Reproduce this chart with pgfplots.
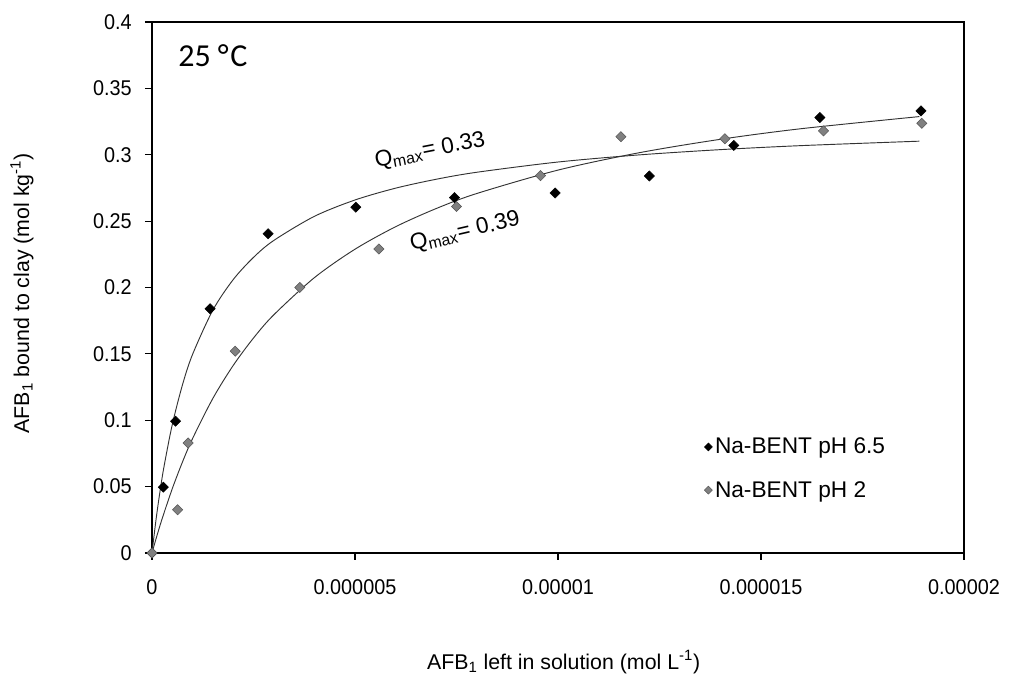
\documentclass[border=0pt]{standalone}
\usepackage{pgfplots}
\pgfplotsset{compat=1.18}
\usepackage{fontspec}
\setmainfont{Liberation Sans}
\newfontfamily\tickfont[FakeStretch=0.93]{Liberation Sans}
\newfontfamily\calib{Carlito}
\definecolor{mgray}{HTML}{808080}
\definecolor{dgray}{HTML}{555555}
\definecolor{lcol}{HTML}{333333}
\begin{document}
\begin{tikzpicture}
\begin{axis}[
  scale only axis,
  width=609pt, height=398.25pt,
  xmin=0, xmax=0.00002, ymin=0, ymax=0.4,
  xtick={0,0.000005,0.00001,0.000015,0.00002},
  xticklabels={0,0.000005,0.00001,0.000015,0.00002},
  ytick={0,0.05,0.1,0.15,0.2,0.25,0.3,0.35,0.4},
  yticklabels={0,0.05,0.1,0.15,0.2,0.25,0.3,0.35,0.4},
  scaled x ticks=false,
  tick align=outside,
  major tick length=5.25pt,
  tick style={black, line width=0.8pt},
  axis line style={black, line width=1pt},
  xtick pos=bottom, ytick pos=left,
  ticklabel style={font=\tickfont\fontsize{16}{19}\selectfont},
  yticklabel style={xshift=-6.5pt},
  xticklabel style={yshift=-11pt},
  label style={font=\fontsize{16}{19}\selectfont},
  xlabel={AFB\textsubscript{1} left in solution (mol L\textsuperscript{-1})},
  ylabel={AFB\textsubscript{1} bound to clay (mol kg\textsuperscript{-1})},
  xlabel style={at={(axis description cs:0.507,-0.2053)}, anchor=center},
  ylabel style={at={(axis description cs:-0.1601,0.489)}, anchor=center},
  legend style={at={(axis description cs:0.68,0.222)}, anchor=north west, draw=none, fill=none,
    font=\fontsize{17}{20}\selectfont, row sep=15pt, inner sep=0pt},
  legend cell align=left,
  legend image code/.code={\draw[#1] plot coordinates {(0.1cm,0cm)};},
  every legend image post/.append style={mark size=2.1pt},
  clip=false,
]
% Fitted Langmuir curves
\addplot[lcol, line width=0.7pt, smooth, forget plot] table[row sep=\\] {
x y\\
0 0\\ 0.1e-6 0.02529\\ 0.2e-6 0.04698\\ 0.3e-6 0.06579\\ 0.5e-6 0.09678\\
0.75e-6 0.12661\\ 1e-6 0.14967\\ 1.5e-6 0.18301\\ 2e-6 0.20594\\ 2.5e-6 0.22268\\
3e-6 0.23544\\ 4e-6 0.25361\\ 5e-6 0.26592\\ 6e-6 0.27482\\ 7e-6 0.28154\\
8e-6 0.28681\\ 10e-6 0.29452\\ 12e-6 0.29989\\ 14e-6 0.30385\\ 16e-6 0.30689\\
18.9e-6 0.31022\\
};
\addplot[lcol, line width=0.7pt, smooth, forget plot] table[row sep=\\] {
x y\\
0 0\\ 0.1e-6 0.01077\\ 0.25e-6 0.02585\\ 0.5e-6 0.04849\\ 0.75e-6 0.06848\\
1e-6 0.08626\\ 1.5e-6 0.11651\\ 2e-6 0.14127\\ 2.5e-6 0.16193\\ 3e-6 0.17942\\
4e-6 0.20742\\ 5e-6 0.22884\\ 6e-6 0.24577\\ 7e-6 0.25948\\ 8e-6 0.27081\\
10e-6 0.28844\\ 12e-6 0.30152\\ 14e-6 0.31163\\ 16e-6 0.31966\\ 18.9e-6 0.32875\\
};
% Data points
\addplot[only marks, mark=square*, mark size=2.7pt, mark options={rotate=45, fill=black, draw=black}] table[row sep=\\] {
x y\\
0 0\\ 0.28e-6 0.0496\\ 0.58e-6 0.0993\\ 1.43e-6 0.1840\\ 2.86e-6 0.2405\\
5.02e-6 0.2605\\ 7.45e-6 0.2677\\ 9.93e-6 0.2712\\ 12.25e-6 0.2840\\
14.33e-6 0.3070\\ 16.45e-6 0.3280\\ 18.94e-6 0.3330\\
};
\addlegendentry{Na-BENT pH 6.5}
\addplot[only marks, mark=square*, mark size=2.7pt, mark options={rotate=45, fill=mgray, draw=dgray}] table[row sep=\\] {
x y\\
0 0\\ 0.63e-6 0.0326\\ 0.89e-6 0.0829\\ 2.05e-6 0.1520\\ 3.64e-6 0.2000\\
5.59e-6 0.2290\\ 7.50e-6 0.2610\\ 9.57e-6 0.2843\\ 11.55e-6 0.3136\\
14.11e-6 0.3120\\ 16.54e-6 0.3180\\ 18.96e-6 0.3237\\
};
\addlegendentry{Na-BENT pH 2}
\node[font=\calib\fontsize{24}{28}\selectfont] at (axis cs:1.5e-6,0.375) {25 °\kern1.2pt C};
\node[rotate=11, font=\fontsize{17}{20}\selectfont] at (axis cs:6.85e-6,0.303) {Q\textsubscript{max}= 0.33};
\node[rotate=13, font=\fontsize{17}{20}\selectfont] at (axis cs:7.71e-6,0.2418) {Q\textsubscript{max}= 0.39};
\end{axis}
\path[use as bounding box] (-114pt,-93pt) rectangle (643.5pt,414.75pt);
\end{tikzpicture}
\end{document}
